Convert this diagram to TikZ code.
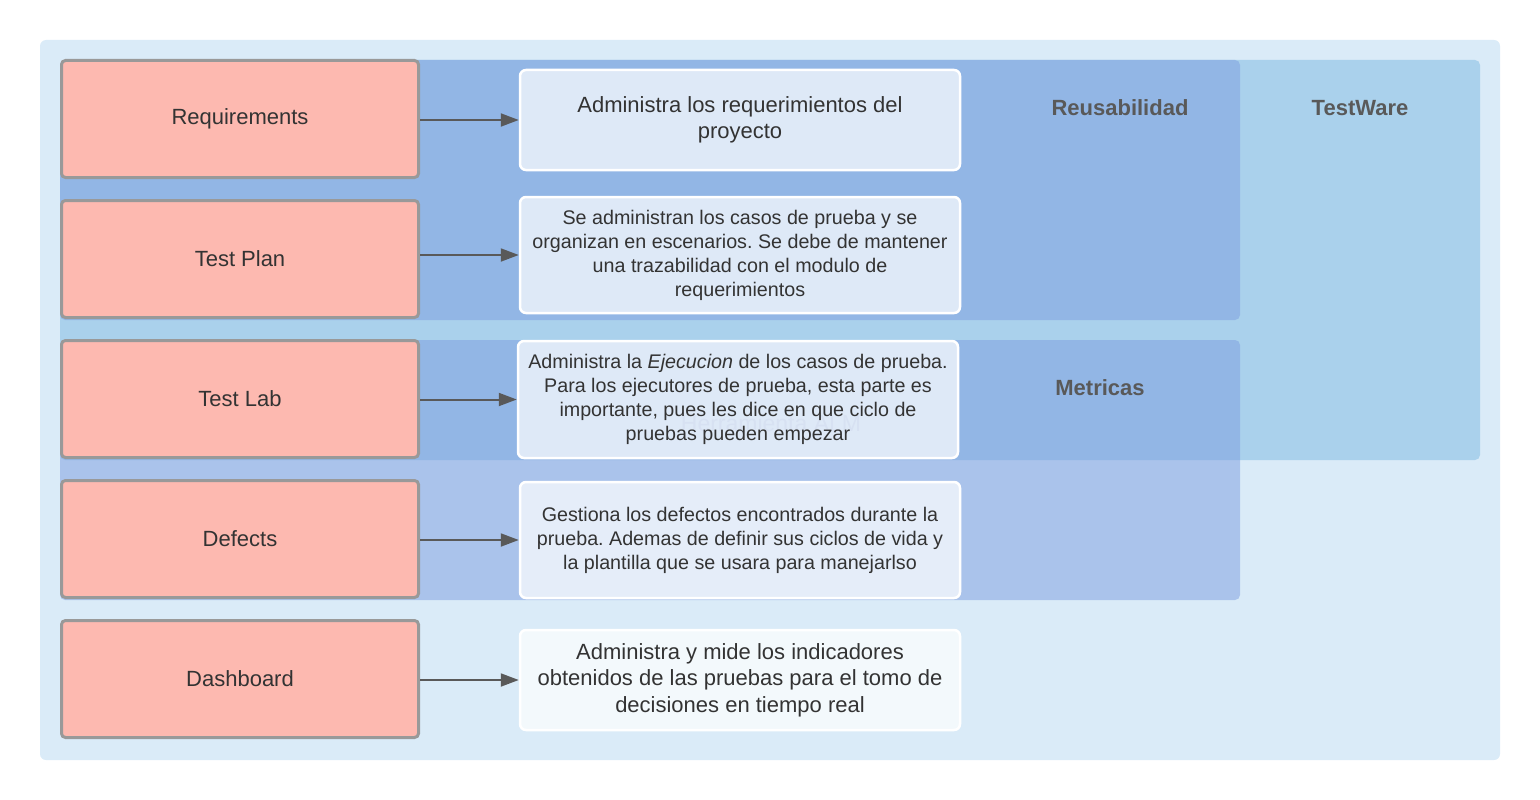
\documentclass[tikz,border=0pt]{standalone}
\usepackage{fontspec}
\setmainfont{Liberation Sans}
\usetikzlibrary{arrows.meta}
\frenchspacing
\definecolor{outerbg}{HTML}{DAEBF8}
\definecolor{twbg}{HTML}{AAD1EC}
\definecolor{grpbg}{RGB}{123,157,224}
\definecolor{redfill}{HTML}{FDB9B0}
\definecolor{redline}{HTML}{999999}
\definecolor{txt}{HTML}{333333}
\definecolor{lbl}{HTML}{595959}
\definecolor{arrcol}{HTML}{595959}
\definecolor{wmark}{RGB}{122,155,212}
\tikzset{
  modbox/.style={draw=redline, fill=redfill, line width=3pt, rounded corners=4pt,
    minimum width=357pt, minimum height=117pt, inner sep=0pt, text=txt,
    font=\fontsize{22}{27}\selectfont},
  descbox/.style={draw=white, fill=white, fill opacity=0.7, text opacity=1,
    line width=2.5pt, rounded corners=6pt, inner sep=0pt, text=txt, align=center},
  bigtxt/.style={font=\fontsize{22}{26.5}\selectfont},
  smalltxt/.style={font=\fontsize{19.7}{24}\selectfont},
  grplabel/.style={text=lbl, font=\fontsize{22}{26}\selectfont\bfseries},
  conn/.style={draw=arrcol, line width=2pt, -{Triangle[length=18pt,width=13pt]}}
}
\begin{document}
\begin{tikzpicture}[x=1pt,y=-1pt]
\useasboundingbox (0,0) rectangle (1540,800);
% containers
\fill[outerbg, rounded corners=6pt] (40,40) rectangle (1500,760);
\fill[twbg, rounded corners=5pt] (60,60) rectangle (1480,460);
\fill[grpbg, fill opacity=0.5, rounded corners=5pt] (60,60) rectangle (1240,320);
\fill[grpbg, fill opacity=0.5, rounded corners=5pt] (60,340) rectangle (1240,600);
\node[grplabel] (lreu) at (1120,108) {Reusabilidad};
\node[grplabel] (ltw) at (1360,108) {TestWare};
\node[grplabel] (lmet) at (1100,388) {Metricas};
\node[text=wmark, font=\fontsize{23}{27}\selectfont] (wm) at (771,423) {Herramienta ALM};
% module boxes
\node[modbox] (req) at (240,119) {Requirements};
\node[modbox] (tp) at (240,259) {Test Plan};
\node[modbox] (tl) at (240,399) {Test Lab};
\node[modbox] (def) at (240,539) {Defects};
\node[modbox] (dash) at (240,679) {Dashboard};
% description boxes
\node[descbox, bigtxt, minimum width=440pt, minimum height=100pt] (reqd) at (740,120)
  {Administra los requerimientos del\\proyecto};
\node[descbox, smalltxt, minimum width=440pt, minimum height=116pt] (tpd) at (740,255)
  {Se administran los casos de prueba y se\\organizan en escenarios. Se debe de mantener\\una trazabilidad con el modulo de\\requerimientos};
\node[descbox, smalltxt, minimum width=440pt, minimum height=117pt] (tld) at (738,399.5)
  {Administra la \textit{Ejecucion} de los casos de prueba.\\Para los ejecutores de prueba, esta parte es\\importante, pues les dice en que ciclo de\\pruebas pueden empezar};
\node[descbox, smalltxt, minimum width=440pt, minimum height=116pt] (defd) at (740,540)
  {Gestiona los defectos encontrados durante la\\prueba. Ademas de definir sus ciclos de vida y\\la plantilla que se usara para manejarlso};
\node[descbox, bigtxt, minimum width=440pt, minimum height=100pt] (dashd) at (740,680)
  {Administra y mide los indicadores\\obtenidos de las pruebas para el tomo de\\decisiones en tiempo real};
% connectors
\draw[conn] (req.east |- reqd.west) -- (reqd.west);
\draw[conn] (tp.east |- tpd.west) -- (tpd.west);
\draw[conn] (tl.east |- tld.west) -- (tld.west);
\draw[conn] (def.east |- defd.west) -- (defd.west);
\draw[conn] (dash.east |- dashd.west) -- (dashd.west);
\end{tikzpicture}
\end{document}
